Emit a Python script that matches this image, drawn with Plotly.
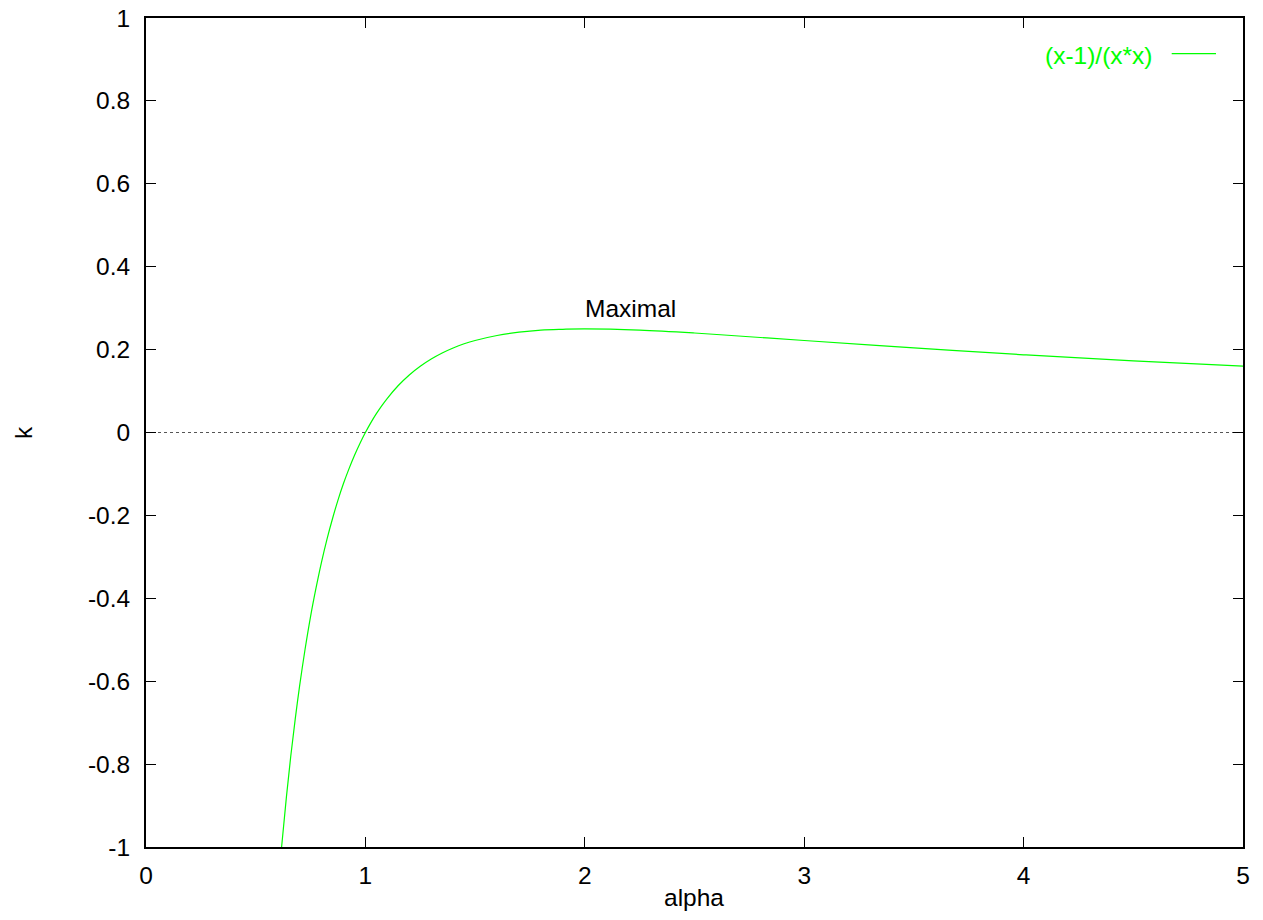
import plotly.graph_objects as go

# values
alpha = [0.618, 0.64, 0.66, 0.68, 0.7, 0.725, 0.75, 0.775, 0.8, 0.825, 0.85, 0.875, 0.9, 0.925,
         0.95, 0.975, 1.0, 1.025, 1.05, 1.075, 1.1, 1.15, 1.2, 1.25, 1.3, 1.35, 1.4, 1.45, 1.5,
         1.6, 1.7, 1.8, 1.9, 2.0, 2.25, 2.5, 2.75, 3.0, 3.5, 4.0, 4.5, 5.0]
k = [-1.0, -0.879, -0.78, -0.692, -0.612, -0.523, -0.444, -0.375, -0.3125, -0.257, -0.208,
     -0.163, -0.123, -0.0877, -0.0554, -0.0263, 0.0, 0.0238, 0.0454, 0.0649, 0.0826, 0.1134,
     0.1389, 0.16, 0.1775, 0.192, 0.204, 0.214, 0.222, 0.234, 0.242, 0.247, 0.249, 0.25,
     0.247, 0.24, 0.231, 0.222, 0.204, 0.1875, 0.173, 0.16]
series_name = "(x-1)/(x*x)"
x_ticks = [0, 1, 2, 3, 4, 5]
y_ticks = [-1, -0.8, -0.6, -0.4, -0.2, 0, 0.2, 0.4, 0.6, 0.8, 1]
y_tick_labels = ["-1", "-0.8", "-0.6", "-0.4", "-0.2", "0", "0.2", "0.4", "0.6", "0.8", "1"]

FONT = "Liberation Sans, Arial, sans-serif"
FS = 24.5
GREEN = "#00ff00"

fig = go.Figure()
fig.add_trace(go.Scatter(x=alpha, y=k, mode="lines", line=dict(color=GREEN, width=1.2, shape="spline"),
                         name=series_name, showlegend=False))

fig.add_shape(type="line", xref="x", yref="y", x0=0, x1=5, y0=0, y1=0,
              line=dict(color="#555555", width=1, dash="dot"), layer="below")

# legend entry drawn manually
fig.add_annotation(xref="paper", yref="paper", x=0.9198, y=0.955, text=series_name, showarrow=False,
                   xanchor="right", yanchor="middle", font=dict(family=FONT, size=FS, color=GREEN))
fig.add_shape(type="line", xref="paper", yref="paper", x0=0.935, x1=0.9754, y0=0.957, y1=0.957,
              line=dict(color=GREEN, width=1.2))

fig.add_annotation(x=2.21, y=0.299, text="Maximal", showarrow=False, xanchor="center", yanchor="middle",
                   font=dict(family=FONT, size=FS, color="black"))

fig.add_annotation(xref="paper", yref="paper", x=-0.1117, y=0.5, text="k", showarrow=False,
                   textangle=-90, xanchor="center", yanchor="middle",
                   font=dict(family=FONT, size=FS, color="black"))
fig.add_annotation(xref="paper", yref="paper", x=0.4995, y=-0.0615, text="alpha", showarrow=False,
                   xanchor="center", yanchor="middle", font=dict(family=FONT, size=FS, color="black"))

fig.update_xaxes(range=[0, 5], tickvals=x_ticks, ticks="inside", ticklen=10, tickwidth=1.2,
                 tickcolor="black", showline=True, linecolor="black", linewidth=2, mirror="ticks",
                 showgrid=False, zeroline=False, ticklabelstandoff=6, ticklabeloverflow="allow",
                 automargin=False,
                 tickfont=dict(family=FONT, size=FS, color="black"))
fig.update_yaxes(range=[-1, 1], tickvals=y_ticks, ticktext=y_tick_labels, ticks="inside", ticklen=10,
                 tickwidth=1.2, tickcolor="black", showline=True, linecolor="black", linewidth=2,
                 mirror="ticks", showgrid=False, zeroline=False, ticklabelstandoff=9,
                 ticklabeloverflow="allow", automargin=False,
                 tickfont=dict(family=FONT, size=FS, color="black"))

fig.update_layout(width=1263, height=920, margin=dict(l=138, r=28, t=10, b=81),
                  plot_bgcolor="white", paper_bgcolor="white", showlegend=False,
                  font=dict(family=FONT, size=FS, color="black"))

fig.write_html("out.html")
